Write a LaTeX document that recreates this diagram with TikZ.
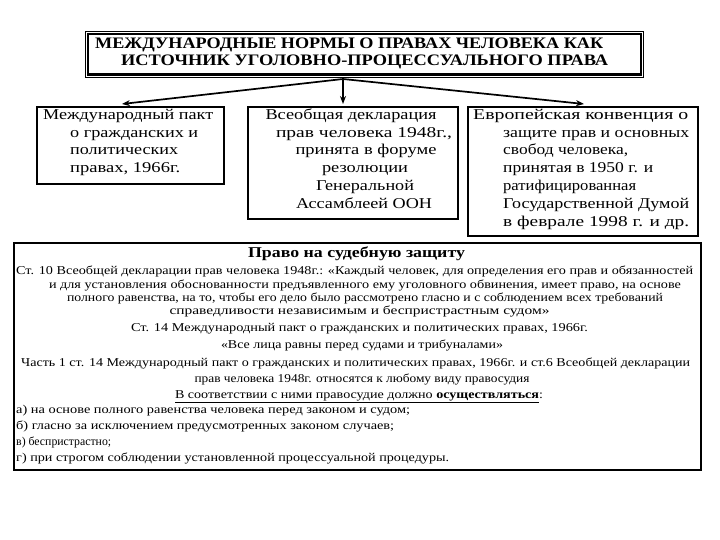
\documentclass[tikz,border=0pt]{standalone}
\usepackage{fontspec}
\setmainfont{Liberation Serif}
\usepackage{graphicx}
\usetikzlibrary{arrows.meta,calc}
\newsavebox\fwbox
\newcommand\fw[2]{\sbox\fwbox{#2}\pgfmathsetmacro\fwr{#1/(\wd\fwbox)}\scalebox{\fwr}[1]{\usebox\fwbox}}
\begin{document}
\begin{tikzpicture}[x=1pt,y=-1pt,
  frame/.style={draw, line width=1.8pt, fill=white, inner sep=0, anchor=north west},
  bigframe/.style={draw, line width=2.4pt, fill=white, inner sep=0, anchor=north west},
  tt/.style={inner sep=0, anchor=base west, font=\fontsize{16}{18}\selectfont\bfseries},
  bx/.style={inner sep=0, anchor=base, font=\fontsize{15}{17}\selectfont},
  bxl/.style={bx, anchor=base west},
  hd/.style={inner sep=0, anchor=base, font=\fontsize{15}{17}\selectfont\bfseries},
  bd/.style={inner sep=0, anchor=base, font=\fontsize{12}{14}\selectfont},
  bdl/.style={bd, anchor=base west},
  arr/.style={-{Stealth[length=8pt,width=6pt]}, line width=1.7pt}]
\useasboundingbox (0,0) rectangle (720,540);
\fill[white] (0,0) rectangle (720,540);

% title
\node[draw, line width=0.8pt, inner sep=0, anchor=north west, minimum width=558pt, minimum height=46pt] (title) at (85,31) {};
\draw[line width=2.6pt] ($(title.north west)+(3,3)$) rectangle ($(title.south east)+(-3,-3)$);
\node[tt] (tl1) at (95,48.5) {\fw{508}{МЕЖДУНАРОДНЫЕ НОРМЫ О ПРАВАХ ЧЕЛОВЕКА КАК}};
\node[tt] (tl2) at (121,65.5) {\fw{487}{ИСТОЧНИК УГОЛОВНО-ПРОЦЕССУАЛЬНОГО ПРАВА}};

% three boxes
\node[frame, minimum width=187pt, minimum height=77pt] (b1) at (36,106) {};
\node[frame, minimum width=210pt, minimum height=112pt] (b2) at (247,106) {};
\node[frame, minimum width=230pt, minimum height=129pt] (b3) at (467,106) {};

\node[bxl] (b1a) at (43,120) {\fw{170}{Международный пакт}};
\node[bxl] (b1b) at (70,138) {\fw{128}{о гражданских и}};
\node[bxl] (b1c) at (70,155) {\fw{108}{политических}};
\node[bxl] (b1d) at (70,173) {\fw{110}{правах, 1966г.}};

\node[bx] (b2a) at (351,120) {\fw{171}{Всеобщая декларация}};
\node[bx] (b2b) at (364,138) {\fw{176}{прав человека 1948г.,}};
\node[bx] (b2c) at (366,155) {\fw{141}{принята в форуме}};
\node[bx] (b2d) at (365,173) {\fw{86}{резолюции}};
\node[bx] (b2e) at (365,191) {\fw{98}{Генеральной}};
\node[bx] (b2f) at (364,209) {\fw{136}{Ассамблеей ООН}};

\node[bxl] (b3a) at (473,120) {\fw{215}{Европейская конвенция о}};
\node[bxl] (b3b) at (503,138) {\fw{186}{защите прав и основных}};
\node[bxl] (b3c) at (503,155) {\fw{125}{свобод человека,}};
\node[bxl] (b3d) at (503,173) {\fw{150}{принятая в 1950 г. и}};
\node[bxl] (b3e) at (503,191) {\fw{133}{ратифицированная}};
\node[bxl] (b3f) at (503,209) {\fw{186}{Государственной Думой}};
\node[bxl] (b3g) at (503,226) {\fw{186}{в феврале 1998 г. и др.}};

% arrows
\coordinate (src) at (343,79);
\coordinate (e1) at (122,104);
\coordinate (e2) at (343,104);
\coordinate (e3) at (584,104);
\draw[arr] (src) -- (e1);
\draw[arr] (src) -- (e2);
\draw[arr] (src) -- (e3);

% big box
\node[bigframe, minimum width=687pt, minimum height=227pt] (big) at (13,242) {};
\node[hd] (h) at (356.5,258) {\fw{217}{Право на судебную защиту}};
\node[bdl] (l1) at (16,274.5) {\fw{677}{Ст. 10 Всеобщей декларации прав человека 1948г.: «Каждый человек, для определения его прав и обязанностей}};
\node[bd] (l2) at (365,288.5) {\fw{632}{и для установления обоснованности предъявленного ему уголовного обвинения, имеет право, на основе}};
\node[bd] (l3) at (365,301.5) {\fw{596}{полного равенства, на то, чтобы его дело было рассмотрено гласно и с соблюдением всех требований}};
\node[bd] (l4) at (359.5,314.5) {\fw{380}{справедливости независимым и беспристрастным судом»}};
\node[bd] (l5) at (359.5,331.5) {\fw{457}{Ст. 14 Международный пакт о гражданских и политических правах, 1966г.}};
\node[bd] (l6) at (362,348.5) {\fw{282}{«Все лица равны перед судами и трибуналами»}};
\node[bdl] (l7) at (21,366.5) {\fw{669}{Часть 1 ст. 14 Международный пакт о гражданских и политических правах, 1966г. и ст.6 Всеобщей декларации}};
\node[bd] (l8) at (362,382.5) {\fw{335}{прав человека 1948г. относятся к любому виду правосудия}};
\node[bd] (l9) at (359,398.5) {\fw{368}{\underline{В соответствии с ними правосудие должно \textbf{осуществляться}}:}};
\node[bdl] (l10) at (16,413.5) {\fw{394}{а) на основе полного равенства человека перед законом и судом;}};
\node[bdl] (l11) at (16,429.5) {\fw{378}{б) гласно за исключением предусмотренных законом случаев;}};
\node[bdl] (l12) at (16,445.5) {\fw{95}{в) беспристрастно;}};
\node[bdl] (l13) at (16,461.5) {\fw{433}{г) при строгом соблюдении установленной процессуальной процедуры.}};
\end{tikzpicture}
\end{document}
